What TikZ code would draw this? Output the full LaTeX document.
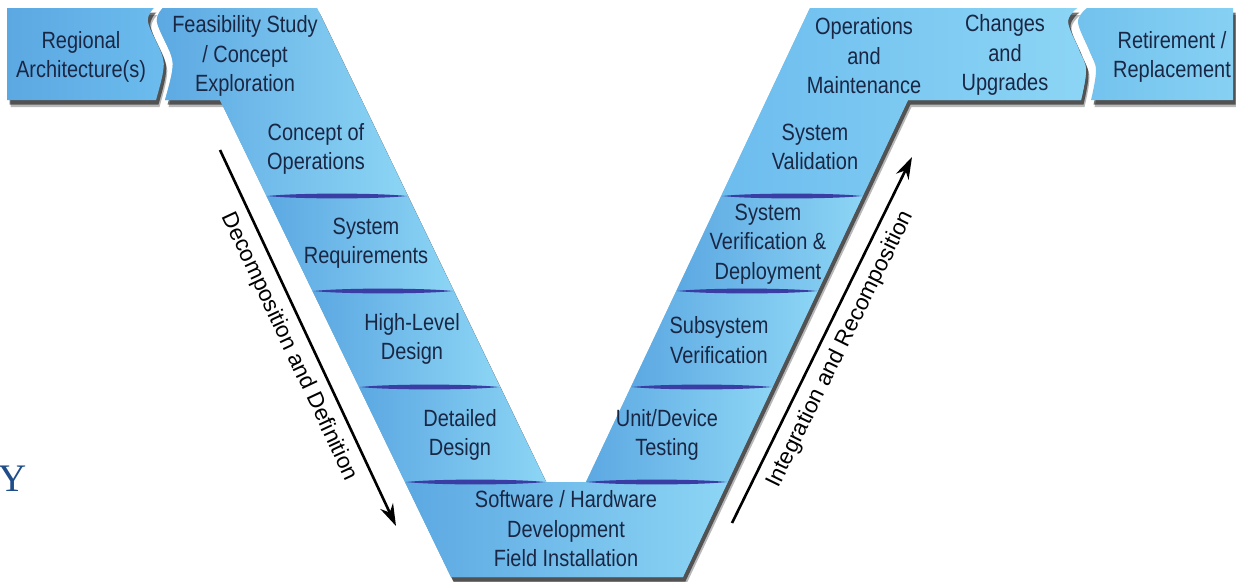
\documentclass[tikz,border=0pt]{standalone}
\usepackage{fontspec}
\newfontfamily\vfont{Liberation Sans}[FakeStretch=0.85]
\newfontfamily\afont{Liberation Sans}
\newfontfamily\yfont{Liberation Serif}
\usetikzlibrary{arrows.meta}
\definecolor{txt}{HTML}{1A2744}
\definecolor{blueL}{HTML}{5CA8E2}
\definecolor{blueR}{HTML}{8CD5F5}
\definecolor{blueM}{HTML}{74C1EE}
\definecolor{blueT}{HTML}{6CBCEE}
\definecolor{blueRet}{HTML}{72C2EE}
\definecolor{blueRet2}{HTML}{86D0F3}
\definecolor{bandc}{HTML}{3A3DA3}
\definecolor{ycol}{HTML}{1F4D8A}
\newcommand\vband[3]{\fill[bandc] (#1,#3) .. controls +(30,-3.2) and +(-30,-3.2) .. (#2,#3) .. controls +(-30,3.2) and +(30,3.2) .. (#1,#3);}
\newcommand\RegPath{(7,8) -- plot[smooth, tension=0.6] coordinates {(154,8) (148,22) (162,55) (163,72) (156,100)} -- (7,100) -- cycle}
\newcommand\RetPath{(1233,8) -- plot[smooth, tension=0.6] coordinates {(1087,8) (1078,22) (1089,50) (1096,70) (1091,100)} -- (1233,100) -- cycle}
\newcommand\VPath{plot[smooth, tension=0.6] coordinates {(165,100) (172,72) (171,55) (157,22) (163,8)} -- (317,8) -- (546,482) -- (586,482) -- (810,8) -- plot[smooth, tension=0.6] coordinates {(1077,8) (1068,22) (1079,50) (1086,70) (1081,100)} -- (908,100) -- (682.9,577) -- (451,577) -- (220,100) -- cycle}
\begin{document}
\begin{tikzpicture}[x=1pt,y=-1pt,
  lbl/.style={align=center, inner sep=0pt, text=txt, font=\vfont\fontsize{23.5}{29.5}\selectfont},
  seg/.style={left color=blueL, right color=blueR},
  shdA/.style={fill=black, opacity=0.28, shift={(3.5,7)}},
  shdB/.style={fill=black, opacity=0.55, shift={(2.5,4.5)}},
  flow/.style={line width=2.6pt, -{Stealth[length=22pt,width=14pt]}},
  side/.style={font=\afont\fontsize{22.5}{26}\selectfont, sloped, below=9pt, inner sep=0pt}
]
\useasboundingbox (0,0) rectangle (1236,581);
\fill[white] (0,0) rectangle (1236,581);

% shadows
\path[shdA] \RegPath;
\path[shdB] \RegPath;
\path[shdA] \RetPath;
\path[shdB] \RetPath;
\path[shdA] \VPath;
\path[shdB] \VPath;

% Regional and Retirement blocks
\path[left color=blueL, right color=blueT] \RegPath;
\path[left color=blueRet, right color=blueRet2] \RetPath;

% V base
\path[fill=blueM] \VPath;

% segments
\path[seg] plot[smooth, tension=0.6] coordinates {(165,100) (172,72) (171,55) (157,22) (163,8)} -- (317,8) -- (407.8,196) -- (266.5,196) -- (220,100) -- cycle;
\path[seg] (266.5,196) -- (407.8,196) -- (453.7,291) -- (312.5,291) -- cycle;
\path[seg] (312.5,291) -- (453.7,291) -- (500,387) -- (359,387) -- cycle;
\path[seg] (359,387) -- (500,387) -- (546,482) -- (405,482) -- cycle;
\path[seg] (405,482) -- (727.7,482) -- (682.9,577) -- (451,577) -- cycle;
\path[seg] (586,482) -- (727.7,482) -- (772.5,387) -- (630.9,387) -- cycle;
\path[seg] (630.9,387) -- (772.5,387) -- (817.8,291) -- (676.3,291) -- cycle;
\path[seg] (676.3,291) -- (817.8,291) -- (862.7,196) -- (721.2,196) -- cycle;
\path[left color=blueT, right color=blueR] (721.2,196) -- (862.7,196) -- (908,100) -- plot[smooth, tension=0.6] coordinates {(1081,100) (1086,70) (1079,50) (1068,22) (1077,8)} -- (810,8) -- cycle;

% bands
\vband{267.5}{406.8}{196}
\vband{313.5}{452.7}{291}
\vband{360}{499}{387}
\vband{406}{545}{482}
\vband{587}{726.7}{482}
\vband{631.9}{771.5}{387}
\vband{677.3}{816.8}{291}
\vband{722.2}{861.7}{196}

% labels
\node[lbl] (reg) at (81,57) {Regional\\Architecture(s)};
\node[lbl] (feas) at (245,56) {Feasibility Study\\/ Concept\\Exploration};
\node[lbl] (conops) at (316,149) {Concept of\\Operations};
\node[lbl] (sysreq) at (366,243) {System\\Requirements};
\node[lbl] (hld) at (412,339) {High-Level\\Design};
\node[lbl] (dd) at (460,435) {Detailed\\Design};
\node[lbl] (sw) at (566,529) {Software / Hardware\\Development\\Field Installation};
\node[lbl] (unit) at (667,435) {Unit/Device\\Testing};
\node[lbl] (subv) at (719,340) {Subsystem\\Verification};
\node[lbl] (sysv) at (768,244) {System\\Verification \&\\Deployment};
\node[lbl] (val) at (815,147) {System\\Validation};
\node[lbl] (ops) at (864,56) {Operations\\and\\Maintenance};
\node[lbl] (chg) at (1005,55) {Changes\\and\\Upgrades};
\node[lbl] (ret) at (1172,57) {Retirement /\\Replacement};

% arrows
\coordinate (a1s) at (220,150);
\coordinate (a1e) at (396,526);
\coordinate (a2s) at (732,523);
\coordinate (a2e) at (912,157);
\draw[flow] (a1s) -- node[side] (t1) {Decomposition and Definition} (a1e);
\draw[flow] (a2s) -- node[side] (t2) {Integration and Recomposition} (a2e);

% stray letter
\node[font=\yfont\fontsize{39}{39}\selectfont, text=ycol, inner sep=0pt] (yy) at (13,479) {Y};
\end{tikzpicture}
\end{document}
